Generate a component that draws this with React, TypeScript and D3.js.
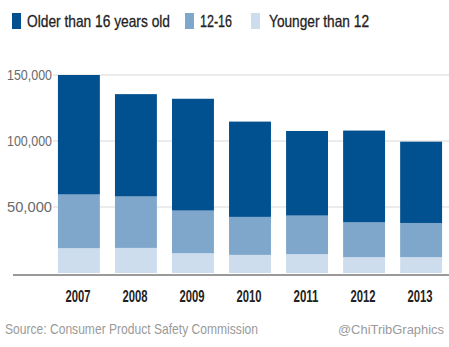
import React from "react";
import * as d3 from "d3";

const years = ["2007", "2008", "2009", "2010", "2011", "2012", "2013"];
const younger12 = [18800, 19000, 15000, 13700, 14300, 12000, 12000];
const age12to16 = [40700, 39000, 32300, 28800, 29200, 26400, 25900];
const older16 = [90500, 77500, 84700, 72200, 64100, 69500, 61600];
const yTicks = [50000, 100000, 150000];
const seriesNames = ["Older than 16 years old", "12-16", "Younger than 12"];
const seriesColors = ["#01508f", "#7fa7cb", "#cddded"];

const W = 449;
const H = 347;
const FONT = "'Liberation Sans Narrow', 'Liberation Sans', Arial, sans-serif";

export default function App() {
  const x = d3.scaleBand<string>().domain(years).range([50.4, 449.6]).paddingInner(0.265).paddingOuter(0.132);
  const y = d3.scaleLinear().domain([0, 150000]).range([273, 75]);
  const rows = years.map((yr, i) => ({ year: yr, young: younger12[i], mid: age12to16[i], old: older16[i] }));
  const stack = d3.stack<any>().keys(["young", "mid", "old"]);
  const layers = stack(rows);
  const layerColor: Record<string, string> = { young: seriesColors[2], mid: seriesColors[1], old: seriesColors[0] };

  const legendItems = [
    { sq: 12, tx: 27, w: 143 },
    { sq: 185, tx: 200, w: 32 },
    { sq: 251, tx: 269, w: 100 },
  ];

  return (
    <svg width={W} height={H} style={{ position: "absolute", left: 0, top: 0, background: "#fff" }}>
      {/* legend */}
      {seriesNames.map((name, i) => (
        <g key={name}>
          <rect x={legendItems[i].sq} y={13} width={9} height={16} fill={seriesColors[i]} />
          <text
            x={legendItems[i].tx}
            y={27}
            fontFamily={FONT}
            fontSize={17}
            fill="#222"
            stroke="#222"
            strokeWidth={0.3}
            textLength={legendItems[i].w}
            lengthAdjust="spacingAndGlyphs"
          >
            {name}
          </text>
        </g>
      ))}
      {/* gridlines */}
      {yTicks.map((t) => (
        <g key={t}>
          <line x1={53} x2={W} y1={y(t)} y2={y(t)} stroke="#e6e6e6" strokeWidth={1.5} />
          <text
            x={52}
            y={y(t) + 5}
            textAnchor="end"
            fontFamily={FONT}
            fontSize={14}
            fill="#6a6a6a"
            textLength={45}
            lengthAdjust="spacingAndGlyphs"
          >
            {d3.format(",")(t)}
          </text>
        </g>
      ))}
      {/* bars */}
      {layers.map((layer) => (
        <g key={layer.key} fill={layerColor[layer.key]}>
          {layer.map((d: any) => (
            <rect
              key={d.data.year}
              x={x(d.data.year)}
              y={y(d[1])}
              width={x.bandwidth()}
              height={y(d[0]) - y(d[1])}
            />
          ))}
        </g>
      ))}
      {/* baseline */}
      <line x1={13} x2={W} y1={275} y2={275} stroke="#9a9a9a" strokeWidth={2} />
      {/* x labels */}
      {years.map((yr) => (
        <text
          key={yr}
          x={(x(yr) as number) + x.bandwidth() / 2 - 1}
          y={302}
          textAnchor="middle"
          fontFamily={FONT}
          fontWeight="bold"
          fontSize={17}
          fill="#222"
          textLength={25}
          lengthAdjust="spacingAndGlyphs"
        >
          {yr}
        </text>
      ))}
      {/* footer */}
      <text x={5} y={334} fontFamily={FONT} fontSize={15} fill="#9a9a9a" textLength={253} lengthAdjust="spacingAndGlyphs">
        Source: Consumer Product Safety Commission
      </text>
      <text x={338} y={334} fontFamily={FONT} fontSize={12} fill="#9a9a9a" textLength={106} lengthAdjust="spacingAndGlyphs">
        @ChiTribGraphics
      </text>
    </svg>
  );
}
